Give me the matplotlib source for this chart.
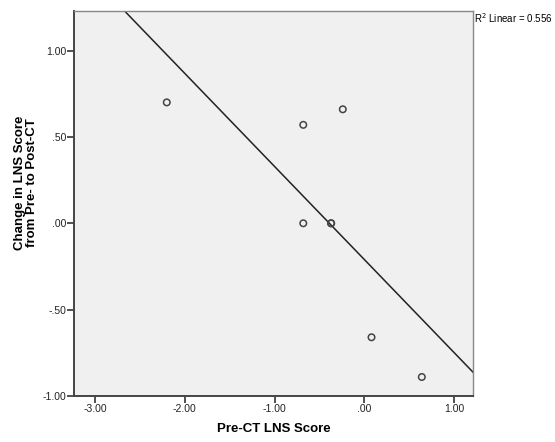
import numpy as np
import matplotlib
matplotlib.use("Agg")
import matplotlib.pyplot as plt

plt.rcParams['font.family'] = ['Liberation Sans', 'DejaVu Sans']

# Pre-CT LNS score vs change in LNS score
pre_ct = [-2.20, -0.68, -0.24, -0.68, -0.37, -0.37, 0.08, 0.64]
change = [0.70, 0.57, 0.66, 0.00, 0.00, 0.00, -0.66, -0.89]
r2_text = "R$^2$ Linear = 0.556"

xticks = [-3, -2, -1, 0, 1]
xtick_labels = ["-3.00", "-2.00", "-1.00", ".00", "1.00"]
yticks = [-1, -0.5, 0, 0.5, 1]
ytick_labels = ["-1.00", "-.50", ".00", ".50", "1.00"]

fig = plt.figure(figsize=(5.55, 4.42), dpi=100)
ax = fig.add_axes([74 / 555, 46 / 442, 399 / 555, 385.5 / 442])
ax.set_facecolor('#f0f0f0')

xmin, xmax = -3.233, 1.21
ax.set_xlim(xmin, xmax)
ax.set_ylim(-1.0, 1.232)

# fit line
slope, icpt = np.polyfit(pre_ct, change, 1)
xs = np.array([xmin, xmax])
ax.plot(xs, icpt + slope * xs, color='#222222', lw=1.1, zorder=2)

ax.scatter(pre_ct, change, s=22, facecolors='none', edgecolors='#444444',
           linewidths=1.1, zorder=3)

ax.set_xticks(xticks)
ax.set_xticklabels(xtick_labels)
ax.set_yticks(yticks)
ax.set_yticklabels(ytick_labels)
ax.tick_params(axis='both', labelsize=7.5, length=5, width=1.2, color='#333333',
               labelcolor='#222222')
ax.tick_params(axis='y', pad=0.5)
ax.tick_params(axis='x', pad=1)
ax.tick_params(top=False, right=False)

for side in ['left', 'bottom']:
    ax.spines[side].set_color('#444444')
    ax.spines[side].set_linewidth(1.4)
for side in ['top', 'right']:
    ax.spines[side].set_color('#888888')
    ax.spines[side].set_linewidth(1.0)

ax.set_xlabel("Pre-CT LNS Score", fontsize=9.5, fontweight='bold', labelpad=6)
fig.text(26 / 555, 1 - 183 / 442, "Change in LNS Score\nfrom Pre- to Post-CT",
         rotation=90, ha='center', va='center', fontsize=9.5, fontweight='bold',
         linespacing=0.95)

fig.text(474 / 555, 1 - 18 / 442, r2_text, fontsize=7, ha='left', va='center')

fig.savefig("out.png", dpi=100)
